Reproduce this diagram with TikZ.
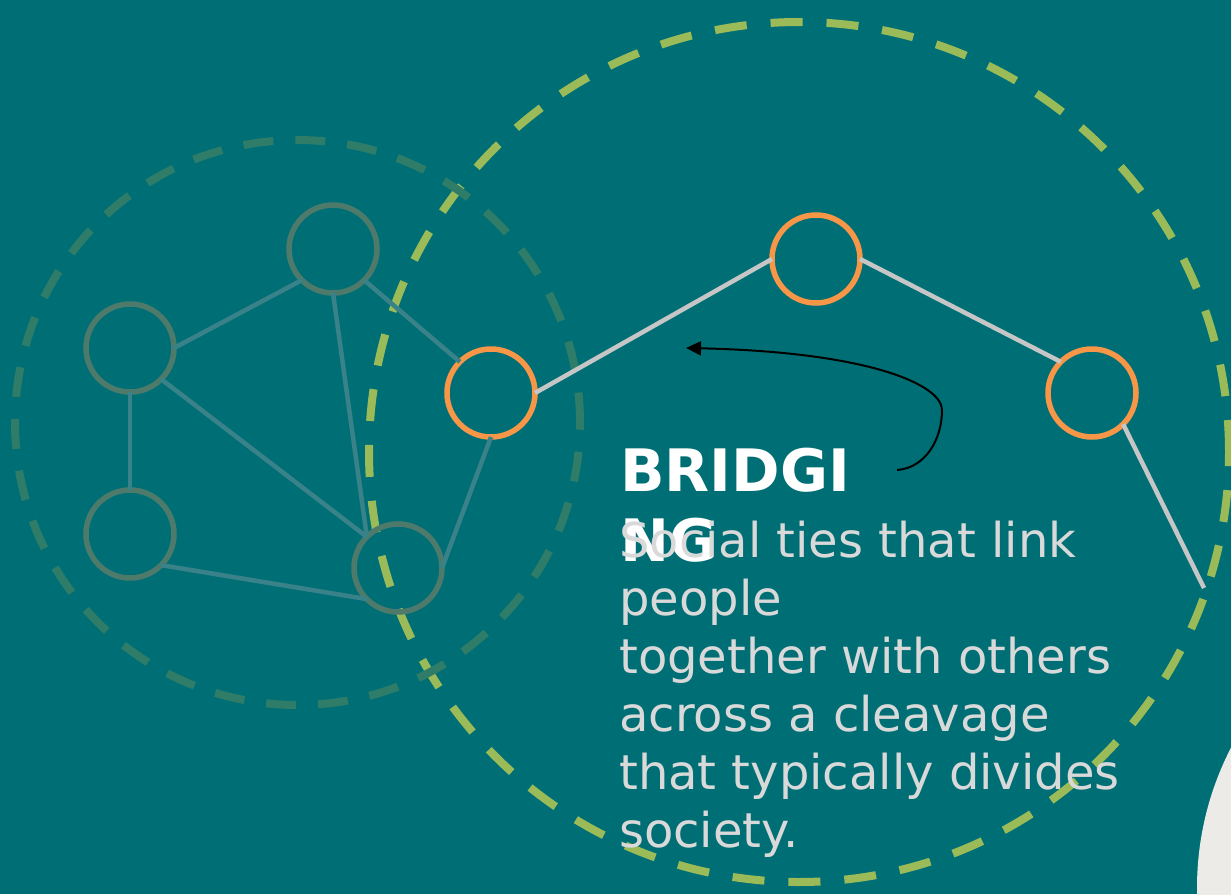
\documentclass[tikz,border=0pt]{standalone}
\usepackage{fontspec}
\setmainfont{DejaVu Sans}
\usetikzlibrary{arrows.meta}
\definecolor{bg}{HTML}{006F75}
\definecolor{ringgreen}{HTML}{9BBB59}
\definecolor{fadegreen}{HTML}{2F7C69}
\definecolor{nodeorange}{HTML}{F79646}
\definecolor{fadenode}{HTML}{4E7A6C}
\definecolor{fadeedge}{HTML}{3A8289}
\definecolor{brightedge}{HTML}{C6C6C6}
\definecolor{bodytext}{HTML}{D9D9D9}
\definecolor{paper}{HTML}{EDEBE8}
\tikzset{
  bigring/.style={draw=ringgreen, line width=8pt, dash pattern=on 32pt off 24pt},
  fadering/.style={draw=fadegreen, line width=8pt, dash pattern=on 30pt off 22pt},
  netnode/.style={circle, minimum size=88pt, inner sep=0pt, outer sep=0pt, line width=5.5pt},
  orangenode/.style={netnode, draw=nodeorange},
  fadednode/.style={netnode, draw=fadenode},
  fadelink/.style={draw=fadeedge, line width=4.5pt},
  brightlink/.style={draw=brightedge, line width=4.5pt},
  pointer/.style={draw=black, line width=2pt, -{Triangle[length=15pt,width=14pt]}},
  titletext/.style={anchor=north west, inner sep=0pt, align=left, text=white,
     font=\fontsize{58.5}{70}\selectfont\bfseries},
  bodystyle/.style={anchor=north west, inner sep=0pt, align=left, text=bodytext,
     font=\fontsize{48}{58}\selectfont}
}
\begin{document}
\begin{tikzpicture}[x=1pt,y=-1pt]
\useasboundingbox (0,0) rectangle (1231,894);
\clip (0,0) rectangle (1231,894);
\fill[bg] (0,0) rectangle (1231,894);
\fill[paper] (1503,888) circle[radius=306pt];
\draw[bigring] (799,452) circle[radius=430pt];
\draw[fadering] (297.5,422.5) circle[radius=282.5pt];

\node[fadednode] (f1) at (333,249) {};
\node[fadednode] (f2) at (130,348) {};
\node[fadednode] (f3) at (130,534) {};
\node[fadednode] (f4) at (398,568) {};
\node[orangenode] (o1) at (491,393) {};
\node[orangenode] (o2) at (816,259) {};
\node[orangenode] (o3) at (1092,393) {};
\coordinate (tail) at (1204,588);

\draw[fadelink] (f1.south west) -- (f2.east);
\draw[fadelink] (f1.south) -- (f4.north west);
\draw[fadelink] (f1.south east) -- (o1.north west);
\draw[fadelink] (f2.south) -- (f3.north);
\draw[fadelink] (f2.south east) -- (f4.north west);
\draw[fadelink] (f3.south east) -- (f4.south west);
\draw[fadelink] (f4.east) -- (o1.south);

\draw[brightlink] (o1.east) -- (o2.west);
\draw[brightlink] (o2.east) -- (o3.north west);
\draw[brightlink] (o3.south east) -- (tail);

\node[titletext] (title) at (620,448) {BRIDGI\\NG};
\node[bodystyle] (body) at (619,521) {Social ties that link\\people\\together with others\\across a cleavage\\that typically divides\\society.};

\coordinate (arrowstart) at (897,470);
\coordinate (arrowbend) at (942,410);
\coordinate (arrowend) at (686,348);
\draw[pointer] (arrowstart) .. controls (925,468) and (942,440) .. (arrowbend)
  .. controls (942,385) and (870,352) .. (arrowend);
\end{tikzpicture}
\end{document}
